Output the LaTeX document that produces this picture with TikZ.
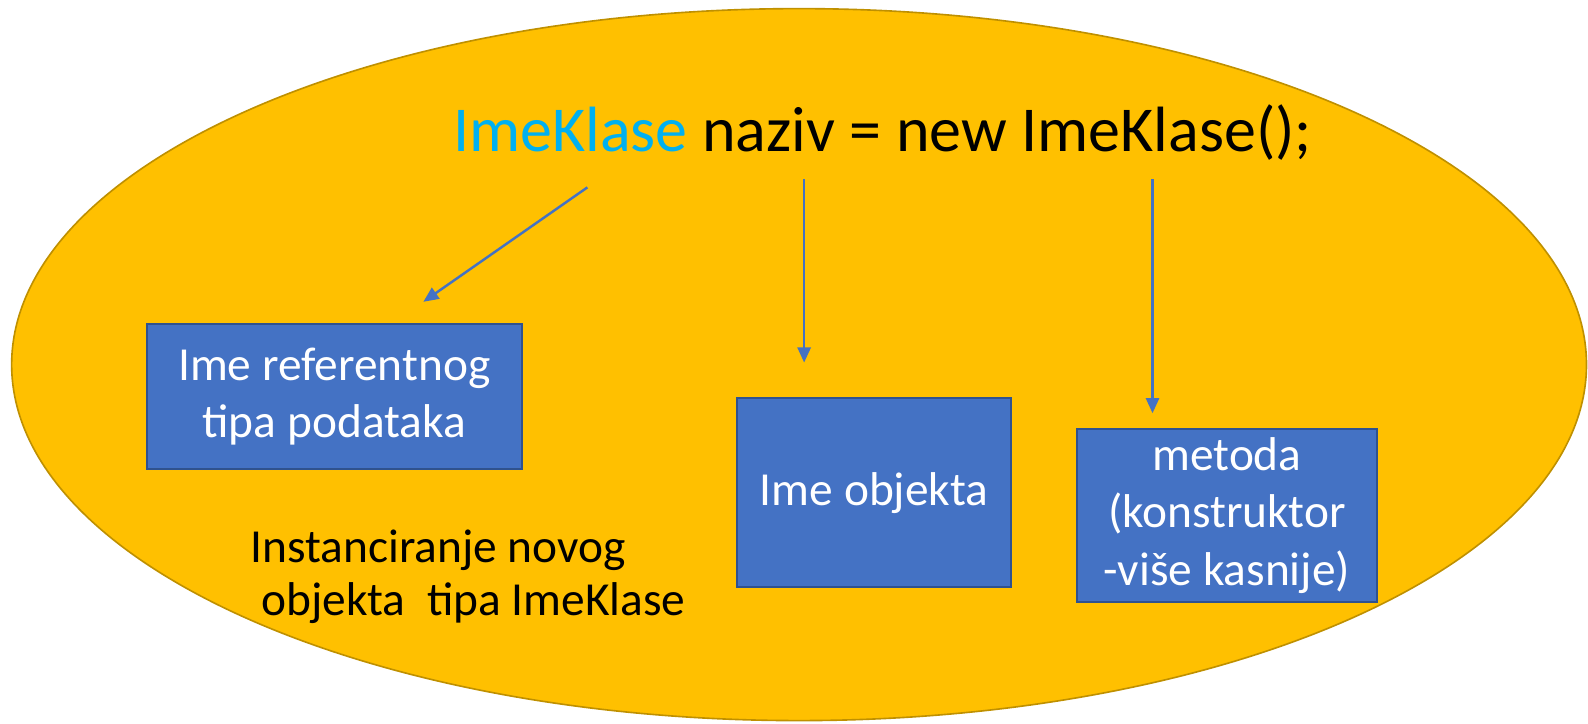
\documentclass[tikz,border=0pt]{standalone}
\usepackage{fontspec}
\setmainfont{Carlito}
\usetikzlibrary{arrows.meta}
\definecolor{gold}{HTML}{FFC000}
\definecolor{golddark}{HTML}{BF9000}
\definecolor{boxblue}{HTML}{4472C4}
\definecolor{boxedge}{HTML}{2F528F}
\definecolor{kwblue}{HTML}{00B0F0}
\tikzset{
  bluebox/.style={draw=boxedge, line width=1pt, fill=boxblue, text=white,
    align=center, inner sep=0pt, font=\fontsize{23.4}{28.5}\selectfont},
  pointer/.style={draw=boxblue, line width=1.2pt,
    -{Triangle[length=7.5pt,width=6.5pt]}},
}
\begin{document}
\begin{tikzpicture}[x=0.5pt, y=-0.5pt]
\useasboundingbox (0,0) rectangle (1568,714);

% background ellipse
\path[fill=gold, draw=golddark, line width=0.8pt] (789,360) ellipse [x radius=777.5, y radius=351.5];

% statement
\node[anchor=base west, inner sep=0pt, font=\fontsize{31.6}{38}\selectfont] (stmt) at (447,150)
  {\textcolor{kwblue}{ImeKlase} naziv = new ImeKlase();};

% boxes
\node[bluebox, minimum width=185pt, minimum height=71.5pt] (tip) at (330,391.5)
  {Ime referentnog\\tipa podataka};
\node[bluebox, minimum width=135pt, minimum height=93.5pt] (obj) at (863,486.5)
  {Ime objekta};
\node[bluebox, minimum width=148.5pt, minimum height=85pt] (met) at (1211.5,509)
  {metoda\\(konstruktor\\-više kasnije)};

% description (anchored on the baseline of its second line)
\node[anchor=base west, align=left, inner sep=0pt, font=\fontsize{23.4}{26.5}\selectfont] (desc) at (247,608)
  {Instanciranje novog\\\hspace*{0.23em}objekta\ \ tipa ImeKlase};

% arrow endpoints
\coordinate (a1s) at (580,185);
\coordinate (a1e) at (418,298);
\coordinate (a2s) at (794,177);
\coordinate (a2e) at (794,358);
\coordinate (a3s) at (1138,177);
\coordinate (a3e) at (1138,408);

\draw[pointer] (a1s) -- (a1e);
\draw[pointer] (a2s) -- (a2e);
\draw[pointer] (a3s) -- (a3e);
\end{tikzpicture}
\end{document}
